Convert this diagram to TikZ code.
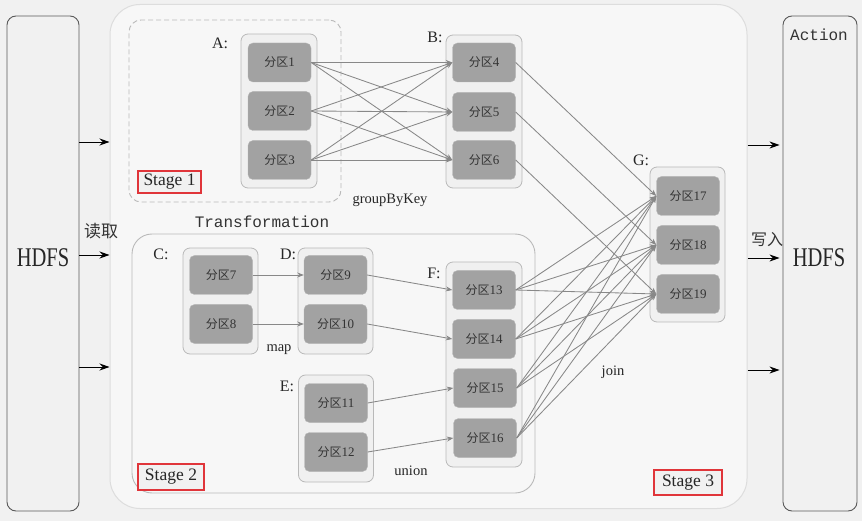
\documentclass[tikz,border=0pt]{standalone}
\usepackage{fontspec}
\setmainfont{Liberation Serif}
\setmonofont{Liberation Mono}
\newfontfamily\cjk{Noto Sans CJK SC}
\usetikzlibrary{arrows.meta}
\definecolor{bg}{HTML}{F1F1F1}
\definecolor{partgray}{HTML}{A2A2A2}
\definecolor{txtgray}{HTML}{333333}
\definecolor{contgray}{HTML}{B9B9B9}
\definecolor{contfill}{HTML}{F0F0F0}
\definecolor{bigline}{HTML}{DDDDDD}
\definecolor{linegray}{HTML}{888888}
\definecolor{stagered}{HTML}{E0353A}
\newcommand\fq[1]{{\cjk\fontsize{12}{13}\selectfont 分区}#1}
\tikzset{
  part/.style={fill=partgray, draw=partgray!80!white, rounded corners=5pt,
    minimum width=63pt, minimum height=39pt, inner sep=0pt,
    font=\fontsize{13}{14}\selectfont, text=txtgray},
  cont/.style={draw=contgray, fill=contfill, rounded corners=7pt, line width=0.8pt, inner sep=0pt},
  hdfsbox/.style={draw=black!65, fill=bg, rounded corners=9pt, line width=0.9pt, inner sep=0pt},
  stagebox/.style={draw=stagered, line width=2pt, inner sep=0pt, fill=bg,
    font=\fontsize{17.5}{19}\selectfont, text=black!85},
  lbl/.style={font=\fontsize{16}{18}\selectfont, text=black!85, inner sep=0pt},
  oplbl/.style={font=\fontsize{14.5}{16}\selectfont, text=black!85, inner sep=0pt},
  garrow/.style={draw=linegray, line width=0.85pt, -{Stealth[length=6.5pt,width=5pt]}},
  barrow/.style={draw=black, line width=0.9pt, -{Stealth[length=10pt,width=7pt]}},
}
\begin{document}
\begin{tikzpicture}[x=1pt,y=-1pt]
\useasboundingbox[fill=bg] (0,0) rectangle (862,521);
% side HDFS boxes
\node[hdfsbox, minimum width=72pt, minimum height=495pt] (hdfsL) at (43,263.5) {};
\node[font=\fontsize{27}{29}\selectfont, xscale=0.76, text=black!85] (hdfsLt) at (43,258) {HDFS};
\node[hdfsbox, minimum width=74pt, minimum height=495pt] (hdfsR) at (820,263.5) {};
\node[font=\ttfamily\fontsize{16}{18}\selectfont, text=black!80] (action) at (819,35) {Action};
\node[font=\fontsize{27}{29}\selectfont, xscale=0.76, text=black!85] (hdfsRt) at (819,258) {HDFS};
% big container
\node[draw=bigline, fill=bg!60!white, line width=1pt, rounded corners=30pt,
  minimum width=637pt, minimum height=504pt, inner sep=0pt] (big) at (428.5,256.5) {};
% stage 1
\node[draw=contgray, dashed, dash pattern=on 5pt off 3pt, line width=0.9pt, rounded corners=12pt,
  minimum width=212pt, minimum height=182pt, inner sep=0pt] (s1) at (235,111) {};
% stage 2
\node[draw=contgray, fill=bg!60!white, line width=0.9pt, rounded corners=20pt,
  minimum width=403pt, minimum height=259pt, inner sep=0pt] (s2) at (333.5,363.5) {};
\node[font=\ttfamily\fontsize{16}{18}\selectfont, text=black!80] (trans) at (262,222) {Transformation};
% containers
\node[cont, minimum width=76pt, minimum height=154pt] (A) at (279,111) {};
\node[cont, minimum width=76pt, minimum height=153pt] (B) at (484,111.5) {};
\node[cont, minimum width=75pt, minimum height=106pt] (C) at (220.5,301) {};
\node[cont, minimum width=75pt, minimum height=106pt] (D) at (335.5,301) {};
\node[cont, minimum width=75pt, minimum height=107pt] (E) at (336,428.5) {};
\node[cont, minimum width=76pt, minimum height=205pt] (F) at (484,364.5) {};
\node[cont, minimum width=75pt, minimum height=155pt] (G) at (687.5,244.5) {};
% container labels
\node[lbl] (Al) at (220,43) {A:};
\node[lbl] (Bl) at (435,37) {B:};
\node[lbl] (Cl) at (161,254) {C:};
\node[lbl] (Dl) at (288,254) {D:};
\node[lbl] (El) at (287,386) {E:};
\node[lbl] (Fl) at (434,273) {F:};
\node[lbl] (Gl) at (641,160) {G:};
% partitions
\node[part] (p1) at (279.5,62.5) {\fq{1}};
\node[part] (p2) at (279.5,111) {\fq{2}};
\node[part] (p3) at (279.5,160) {\fq{3}};
\node[part] (p4) at (484,62.5) {\fq{4}};
\node[part] (p5) at (484,112) {\fq{5}};
\node[part] (p6) at (484,160) {\fq{6}};
\node[part] (p7) at (221,275) {\fq{7}};
\node[part] (p8) at (221,324) {\fq{8}};
\node[part] (p9) at (335.5,275) {\fq{9}};
\node[part] (p10) at (335.5,324) {\fq{10}};
\node[part] (p11) at (336,403) {\fq{11}};
\node[part] (p12) at (336,452) {\fq{12}};
\node[part] (p13) at (484,290) {\fq{13}};
\node[part] (p14) at (484,339) {\fq{14}};
\node[part] (p15) at (485,388) {\fq{15}};
\node[part] (p16) at (485,438) {\fq{16}};
\node[part] (p17) at (688,196) {\fq{17}};
\node[part] (p18) at (688,245) {\fq{18}};
\node[part] (p19) at (688,294) {\fq{19}};
% operation labels
\node[oplbl] (gbk) at (390,200) {groupByKey};
\node[oplbl] (map) at (279,350) {map};
\node[oplbl] (union) at (411,471) {union};
\node[oplbl] (join) at (613,372) {join};
% stage labels
\node[stagebox, minimum width=63pt, minimum height=22pt] (st1) at (169.5,182) {Stage 1};
\node[stagebox, minimum width=66pt, minimum height=26pt] (st2) at (171,477) {Stage 2};
\node[stagebox, minimum width=68pt, minimum height=25pt] (st3) at (688,482.5) {Stage 3};
% read / write labels
\node[font=\cjk\fontsize{17}{19}\selectfont, text=black!80, inner sep=0pt] (read) at (101,231) {读取};
\node[font=\cjk\fontsize{16}{18}\selectfont, text=black!80, inner sep=0pt] (write) at (767,240) {写入};
% connectors
\foreach \s in {1,2,3}
  \foreach \t in {4,5,6}
    \draw[garrow] (p\s.east) -- (p\t.west);
\draw[garrow] (p4.east) -- (p17.west);
\draw[garrow] (p5.east) -- (p18.west);
\draw[garrow] (p6.east) -- (p19.west);
\draw[garrow] (p7.east) -- (p9.west);
\draw[garrow] (p8.east) -- (p10.west);
\draw[garrow] (p9.east) -- (p13.west);
\draw[garrow] (p10.east) -- (p14.west);
\draw[garrow] (p11.east) -- (p15.west);
\draw[garrow] (p12.east) -- (p16.west);
\foreach \s in {13,14,15,16}
  \foreach \t in {17,18,19}
    \draw[garrow] (p\s.east) -- (p\t.west);
% read / write arrows
\coordinate (ly1) at (0,142);
\coordinate (ly2) at (0,255);
\coordinate (ly3) at (0,367);
\coordinate (ry1) at (0,145);
\coordinate (ry2) at (0,258);
\coordinate (ry3) at (0,370);
\foreach \i in {1,2,3}{
  \draw[barrow] (hdfsL.east |- ly\i) -- (big.west |- ly\i);
  \draw[barrow] (big.east |- ry\i) -- ([xshift=-3pt]hdfsR.west |- ry\i);
}
\end{tikzpicture}
\end{document}
